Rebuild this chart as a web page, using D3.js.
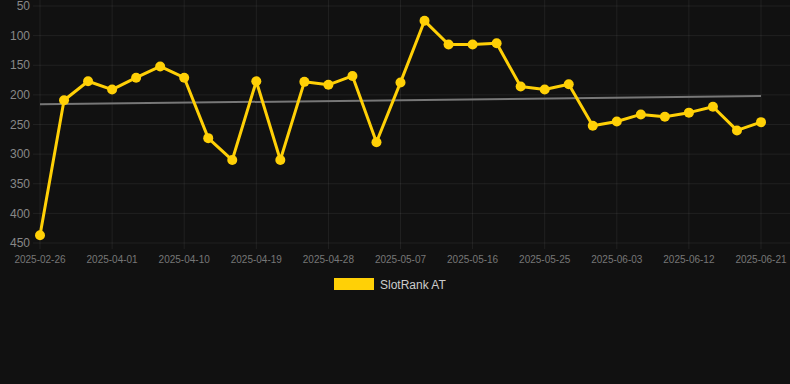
<!DOCTYPE html>
<html><head><meta charset="utf-8">
<script src="https://cdn.jsdelivr.net/npm/d3@7"></script>
<style>
html,body{margin:0;padding:0;background:#111111;}
svg{display:block;font-family:"Liberation Sans",Arial,Helvetica,sans-serif;}
</style></head>
<body>
<svg id="chart" width="790" height="384"></svg>
<script>
const dates = ["2025-02-26","2025-03-26","2025-03-29","2025-04-01","2025-04-04","2025-04-07","2025-04-10","2025-04-13","2025-04-16","2025-04-19","2025-04-22","2025-04-25","2025-04-28","2025-05-01","2025-05-04","2025-05-07","2025-05-10","2025-05-13","2025-05-16","2025-05-19","2025-05-22","2025-05-25","2025-05-28","2025-05-31","2025-06-03","2025-06-06","2025-06-09","2025-06-12","2025-06-15","2025-06-18","2025-06-21"];
const ranks = [437,209,177,191,171,152,171,273,310,177,310,178,183,168,280,179,75,115,115,113,186,191,182,252,245,233,237,230,220,260,246];
const trendValues = [216,202];
const yTicks = [50,100,150,200,250,300,350,400,450];
const xTickLabels = ["2025-02-26","2025-04-01","2025-04-10","2025-04-19","2025-04-28","2025-05-07","2025-05-16","2025-05-25","2025-06-03","2025-06-12","2025-06-21"];
const seriesName = "SlotRank AT";

const svg = d3.select("#chart");
const x = d3.scalePoint().domain(dates).range([40, 761]);
const y = d3.scaleLinear().domain([50, 450]).range([6, 243]);

const grid = "rgba(255,255,255,0.065)";
// horizontal grid
svg.append("g").selectAll("line").data(yTicks).join("line")
  .attr("x1", 33).attr("x2", 790)
  .attr("y1", d => y(d)).attr("y2", d => y(d))
  .attr("stroke", grid).attr("stroke-width", 1);
// vertical grid
svg.append("g").selectAll("line").data(xTickLabels).join("line")
  .attr("x1", d => x(d)).attr("x2", d => x(d))
  .attr("y1", 0).attr("y2", y(450) + 6)
  .attr("stroke", grid).attr("stroke-width", 1);

// y labels
svg.append("g").selectAll("text").data(yTicks).join("text")
  .attr("x", 30).attr("y", d => y(d)).attr("dy", "0.35em")
  .attr("text-anchor", "end").attr("fill", "#888888").attr("font-size", 12)
  .text(d => d);
// x labels
svg.append("g").selectAll("text").data(xTickLabels).join("text")
  .attr("x", d => x(d)).attr("y", 259).attr("dy", "0.35em")
  .attr("text-anchor", "middle").attr("fill", "#777777").attr("font-size", 10)
  .text(d => d);

// trend line
svg.append("line")
  .attr("x1", x(dates[0])).attr("x2", x(dates[dates.length - 1]))
  .attr("y1", y(trendValues[0])).attr("y2", y(trendValues[1]))
  .attr("stroke", "#777777").attr("stroke-width", 2);

const yellow = "#FFD006";
const line = d3.line().x((d, i) => x(dates[i])).y(d => y(d));
svg.append("path").datum(ranks).attr("d", line)
  .attr("fill", "none").attr("stroke", yellow).attr("stroke-width", 3)
  .attr("stroke-linejoin", "round");
svg.append("g").selectAll("circle").data(ranks).join("circle")
  .attr("cx", (d, i) => x(dates[i])).attr("cy", d => y(d)).attr("r", 5)
  .attr("fill", yellow);

// legend
svg.append("rect").attr("x", 334).attr("y", 278).attr("width", 40).attr("height", 12).attr("fill", yellow);
svg.append("text").attr("x", 380).attr("y", 284.5).attr("dy", "0.35em")
  .attr("fill", "#cccccc").attr("font-size", 12).text(seriesName);
</script>
</body></html>
